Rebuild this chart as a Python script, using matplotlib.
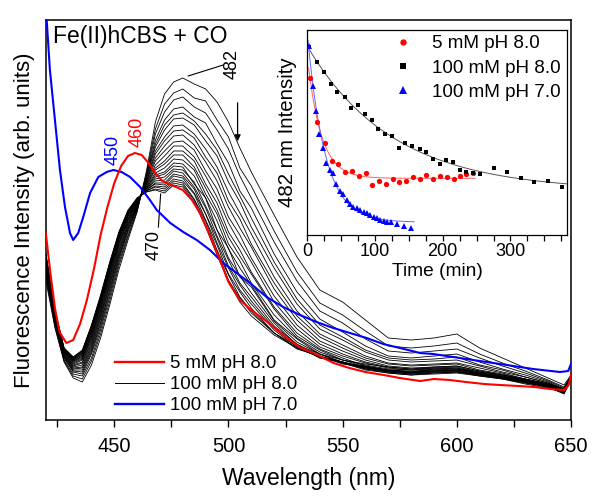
import numpy as np
import matplotlib
matplotlib.use("Agg")
import matplotlib.pyplot as plt
from matplotlib.lines import Line2D

plt.rcParams['font.family'] = ['Liberation Sans', 'DejaVu Sans']

# ---------------- main panel data (arb. units) ----------------
wl_grid = [420, 424, 428, 432, 436, 440, 444, 448, 452, 456, 460, 464, 468, 472, 476, 480,
           485, 490, 495, 500, 505, 510, 520, 530, 540, 550, 560, 570, 580, 590, 600, 610,
           620, 630, 640, 647, 650]

spec_01 = [140,92,58,42,38,55,82,115,150,180,208,248,298,326,338,342,336,331,318,298,272,248,205,163,130,118,100,82,80,82,86,72,62,52,42,35,45]
spec_02 = [143,94,59,44,41,59,86,119,154,183,209,246,291,316,327,331,322,319,300,283,252,234,189,148,117,105,89,74,72,74,77,66,57,49,40,33,44]
spec_03 = [145,95,60,46,44,62,90,123,157,185,210,244,286,308,320,323,313,307,290,271,244,222,178,139,109,97,81,69,67,69,71,62,54,47,39,32,43]
spec_04 = [147,97,62,48,46,66,93,126,160,188,212,243,280,300,311,313,303,297,276,257,229,212,166,128,101,88,74,64,62,64,66,58,51,45,38,31,43]
spec_05 = [149,98,62,49,48,68,96,129,162,190,212,242,276,295,305,307,299,286,270,246,224,202,158,121,95,83,70,62,60,61,63,55,50,43,37,31,43]
spec_06 = [150,99,63,50,50,70,98,131,164,191,213,241,273,290,301,302,295,279,264,238,218,193,152,116,91,80,68,60,58,59,60,54,48,43,37,30,43]
spec_07 = [152,100,64,51,52,72,101,134,166,193,214,239,269,283,294,295,286,271,253,228,207,186,143,109,86,75,64,57,55,56,57,52,47,41,36,30,43]
spec_08 = [153,101,65,52,53,74,103,136,168,194,215,238,266,279,289,290,282,263,247,219,201,176,137,104,83,72,62,56,54,55,56,50,46,41,36,29,42]
spec_09 = [154,101,65,53,55,76,105,138,170,196,215,238,262,274,284,285,275,258,239,213,192,173,131,100,79,69,60,54,52,53,54,49,45,40,35,29,42]
spec_10 = [156,102,66,54,57,78,107,140,172,197,216,236,259,269,278,279,270,249,231,203,185,162,124,95,76,66,58,53,51,53,54,49,45,40,36,30,43]
spec_11 = [157,103,67,55,58,80,109,142,174,199,217,236,255,264,274,274,263,244,223,197,177,158,118,91,73,64,57,52,50,52,53,48,44,40,35,29,42]
spec_12 = [158,104,67,56,60,82,111,144,176,200,217,235,252,259,269,269,259,236,217,188,170,148,113,87,71,62,54,50,48,51,52,47,43,39,34,28,41]
spec_13 = [159,105,68,57,61,83,113,146,177,201,218,234,250,256,265,265,253,232,210,183,164,146,111,84,70,60,56,53,51,52,52,48,45,41,36,31,44]
spec_14 = [160,105,68,58,62,85,114,147,178,202,218,233,247,252,261,260,250,226,206,176,159,137,105,82,68,60,53,49,47,49,50,46,42,38,33,27,41]
spec_15 = [161,106,69,59,63,86,116,149,180,204,219,232,245,248,257,256,244,222,199,171,152,135,100,81,66,60,55,51,50,51,51,47,44,40,36,30,43]
spec_16 = [162,107,69,59,64,88,117,150,181,204,219,232,243,246,254,253,236,222,190,172,143,133,99,78,66,58,52,48,46,48,49,45,42,37,33,27,40]
spec_17 = [163,107,70,60,65,89,118,151,182,205,220,231,241,243,251,250,238,214,190,162,144,127,97,75,66,57,54,50,49,50,51,47,43,39,35,29,42]
spec_18 = [164,108,70,60,66,90,119,152,183,206,220,231,239,240,249,247,233,212,184,160,137,123,94,76,64,58,51,47,45,47,48,44,41,37,33,26,40]
spec_19 = [164,108,71,61,67,91,121,154,184,207,221,230,237,237,246,244,231,206,182,154,135,119,92,75,62,58,53,50,48,50,50,46,43,39,35,30,43]
spec_20 = [165,108,71,61,67,92,121,154,185,207,221,230,236,235,244,242,227,206,177,152,130,116,90,73,63,57,50,47,45,46,47,44,41,36,32,27,41]
spec_21 = [165,109,71,62,68,93,123,156,186,208,221,229,234,233,241,239,226,200,175,146,128,112,87,74,62,58,52,49,47,49,49,45,42,38,34,29,42]
spec_22 = [166,109,71,62,69,94,123,156,187,209,221,229,233,231,239,237,221,199,170,145,123,109,87,72,63,57,51,48,46,47,48,45,42,38,33,28,41]
spec_23 = [166,110,72,63,69,94,124,157,187,209,222,228,231,229,237,235,220,195,169,140,122,107,87,71,64,56,53,49,48,49,50,46,43,39,35,30,44]
spec_24 = [167,110,72,63,70,95,125,158,188,210,222,228,230,227,235,233,218,193,165,138,118,104,85,72,63,57,52,49,47,48,48,45,42,38,34,28,42]

spectra_100mM_pH8 = [spec_01, spec_02, spec_03, spec_04, spec_05, spec_06, spec_07, spec_08,
                     spec_09, spec_10, spec_11, spec_12, spec_13, spec_14, spec_15, spec_16,
                     spec_17, spec_18, spec_19, spec_20, spec_21, spec_22, spec_23, spec_24]

red_wl = [420, 422, 424, 426, 429, 432, 435, 438, 441, 444, 447, 450, 453, 456, 459, 462, 465,
          468, 471, 474, 477, 480, 484, 488, 492, 496, 500, 505, 510, 517, 524, 531, 539, 546,
          553, 560, 568, 575, 584, 590, 597, 604, 612, 619, 627, 634, 641, 647, 649, 650]
red_int = [187, 147, 112, 88, 77, 80, 96, 120, 150, 185, 213, 237, 254, 264, 267, 265, 257,
           247, 239, 236, 233, 230, 220, 205, 184, 162, 138, 120, 110, 98, 85, 73, 65, 57,
           52, 48, 45, 42, 39, 41, 40, 38, 36, 35, 34, 33, 31, 30, 35, 45]

blue_wl = [420, 421.8, 424, 426.2, 428.4, 430.6, 432, 434.2, 436.4, 439.4, 443, 446.7, 449.6,
           453.2, 456.9, 461.3, 465.6, 468.6, 474.5, 480.2, 486.1, 491.9, 497.7, 503.6, 509.4,
           516.7, 524, 531.3, 538.6, 545.9, 553.2, 560.5, 567.8, 575.1, 583.9, 589.7, 604.3,
           618.9, 633.5, 645.2, 648.8, 650]
blue_int = [414, 350, 300, 250, 213, 187, 180, 187, 203, 227, 243, 248, 250, 248, 243, 233,
            220, 210, 197, 188, 180, 170, 157, 147, 137, 123, 113, 105, 98, 92, 87, 82, 76,
            72, 67, 66, 61, 56, 51, 48, 49, 56]

# ---------------- inset data: 482 nm intensity vs time ----------------
t_5mM_pH8 = [4, 15, 26, 36, 46, 56, 66, 76, 86, 96, 106, 116, 126, 136, 146, 156, 166, 176,
             186, 196, 206, 216, 226, 235, 245]
i_5mM_pH8 = [157, 113, 92, 74, 71, 63, 64, 59, 62, 50, 54, 51, 56, 53, 54, 58, 56, 60, 56,
             59, 58, 56, 59, 61, 62]

t_100mM_pH8 = [3, 14, 25, 35, 44, 55, 65, 75, 85, 95, 105, 115, 125, 135, 145, 155, 166, 175,
               186, 196, 205, 215, 225, 235, 245, 255, 275, 295, 315, 335, 355, 376]
i_100mM_pH8 = [188, 173, 163, 151, 143, 138, 127, 130, 121, 115, 106, 101, 99, 87, 92, 89, 86,
               83, 76, 71, 75, 73, 65, 63, 62, 61, 67, 63, 57, 53, 54, 48]

t_100mM_pH7 = [3, 8, 13, 18, 23, 28, 33, 38, 43, 48, 53, 58, 63, 68, 73, 78, 83, 88, 93, 98,
               103, 108, 113, 118, 123, 133, 143, 153]
i_100mM_pH7 = [189, 149, 124, 101, 87, 72, 65, 62, 51, 44, 41, 35, 31, 28, 27, 25, 23, 22, 20,
               18, 17, 15, 14, 13, 13, 11, 9, 7]

legend_labels = ["5 mM pH 8.0", "100 mM pH 8.0", "100 mM pH 7.0"]

RED = '#ff0000'
BLUE = '#0000ff'


def fit_exp(t, y):
    """Single exponential fit y = A*exp(-t/tau) + C (grid search on tau)."""
    t = np.asarray(t, float)
    y = np.asarray(y, float)
    best = None
    for tau in np.linspace(2, 600, 3000):
        X = np.column_stack([np.exp(-t / tau), np.ones_like(t)])
        coef, *_ = np.linalg.lstsq(X, y, rcond=None)
        r = np.sum((X @ coef - y) ** 2)
        if best is None or r < best[0]:
            best = (r, tau, coef)
    _, tau, (A, C) = best
    return lambda tt: A * np.exp(-np.asarray(tt) / tau) + C


fig = plt.figure(figsize=(6.01, 4.97), dpi=100)
ax = fig.add_axes([0.0762, 0.1549, 0.8738, 0.8049])

for s in spectra_100mM_pH8:
    ax.plot(wl_grid, s, color='black', lw=0.6, zorder=2)
ax.plot(blue_wl, blue_int, color=BLUE, lw=1.5, zorder=3)
ax.plot(red_wl, red_int, color=RED, lw=1.5, zorder=4)

ax.set_xlim(420, 650)
ax.set_ylim(0, 400)
ax.set_yticks([])
ax.set_xticks([450, 500, 550, 600, 650])
ax.set_xticks([425, 475, 525, 575, 625], minor=True)
ax.tick_params(axis='x', which='both', direction='out', length=5, width=1, labelsize=14.5, pad=7)
for sp in ax.spines.values():
    sp.set_linewidth(1.1)
ax.set_xlabel("Wavelength (nm)", fontsize=16.5, labelpad=8)
ax.set_ylabel("Fluorescence Intensity (arb. units)", fontsize=16, labelpad=8)

ax.text(423.2, 383.5, "Fe(II)hCBS + CO", fontsize=16.5, ha='left', va='center')
ax.text(449.6, 270, "450", color=BLUE, fontsize=13, rotation=90, ha='center', va='center')
ax.text(459.9, 288, "460", color=RED, fontsize=13, rotation=90, ha='center', va='center')
ax.text(501.5, 356, "482", color='black', fontsize=13, rotation=90, ha='center', va='center')
ax.text(467.6, 175, "470", color='black', fontsize=13, rotation=90, ha='center', va='center')
ax.plot([482.4, 497.7], [344, 355], color='black', lw=0.8)
ax.plot([469.3, 470.3], [193, 226], color='black', lw=0.8)
ax.annotate("", xy=(504, 276), xytext=(504, 320),
            arrowprops=dict(arrowstyle='-|>', color='black', lw=0.9, mutation_scale=9))

handles = [Line2D([], [], color=RED, lw=1.7),
           Line2D([], [], color='black', lw=0.7),
           Line2D([], [], color=BLUE, lw=1.7)]
ax.legend(handles, legend_labels, loc='lower left', bbox_to_anchor=(0.125, 0.005),
          frameon=False, fontsize=13.4, handlelength=2.65, handletextpad=0.3,
          labelspacing=0.22, borderpad=0.2, borderaxespad=0.0)

# ---------------- inset ----------------
axi = fig.add_axes([0.5113, 0.5272, 0.4316, 0.4125])
axi.set_xlim(0, 383)
axi.set_ylim(0, 205)

fk = fit_exp(t_100mM_pH8, i_100mM_pH8)
fr = fit_exp(t_5mM_pH8, i_5mM_pH8)
fb = fit_exp(t_100mM_pH7, i_100mM_pH7)
tk = np.linspace(0, 383, 300)
tr = np.linspace(2, 248, 300)
tb = np.linspace(1, 158, 300)
axi.plot(tk, fk(tk), color='#555555', lw=0.7, zorder=2)
axi.plot(tr, fr(tr), color='#ff6060', lw=0.7, zorder=2)
axi.plot(tb, fb(tb), color='#6666ff', lw=0.7, zorder=2)

pr, = axi.plot(t_5mM_pH8, i_5mM_pH8, 'o', color=RED, ms=3.8, mew=0, zorder=3)
pk, = axi.plot(t_100mM_pH8, i_100mM_pH8, 's', color='black', ms=3.4, mew=0, zorder=3)
pb, = axi.plot(t_100mM_pH7, i_100mM_pH7, '^', color=BLUE, ms=4.3, mew=0, zorder=4)

axi.set_yticks([])
axi.set_xticks([0, 100, 200, 300])
axi.set_xticks([25, 50, 75, 125, 150, 175, 225, 250, 275, 325, 350, 375], minor=True)
axi.tick_params(axis='x', which='both', direction='out', length=4, width=0.9, labelsize=13, pad=2)
for sp in axi.spines.values():
    sp.set_linewidth(0.9)
axi.set_xlabel("Time (min)", fontsize=13.8, labelpad=2)
axi.text(-0.076, 0.5, "482 nm Intensity", fontsize=14.7, rotation=90, ha='center',
         va='center', transform=axi.transAxes)
axi.legend([pr, pk, pb], legend_labels, loc='upper left', bbox_to_anchor=(0.29, 0.985),
           frameon=False, fontsize=13.6, numpoints=1, handlelength=2.0, handletextpad=0.5,
           labelspacing=0.38, borderpad=0.1, borderaxespad=0.0, markerscale=1.2)

fig.savefig("out.png", dpi=100)
